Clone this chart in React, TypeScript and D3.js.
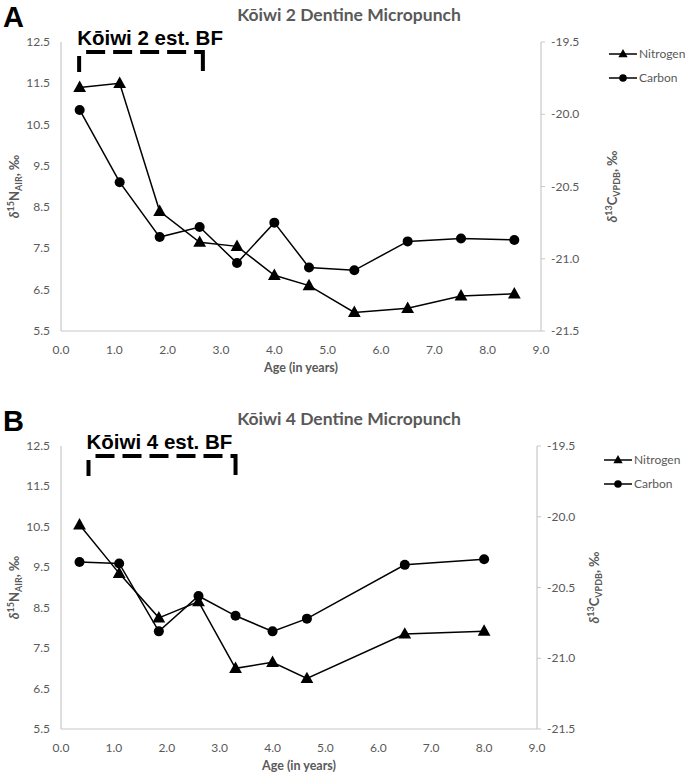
import React from 'react';
import * as d3 from 'd3';

// ages (years) and isotope values
const ageA = [0.35, 1.1, 1.85, 2.6, 3.3, 4.0, 4.65, 5.5, 6.5, 7.5, 8.5];
const nitrogenA = [11.4, 11.5, 8.4, 7.65, 7.55, 6.85, 6.6, 5.95, 6.05, 6.35, 6.4];
const carbonA = [-19.97, -20.47, -20.85, -20.78, -21.03, -20.75, -21.06, -21.08, -20.88, -20.86, -20.87];

const ageB = [0.35, 1.1, 1.85, 2.6, 3.3, 4.0, 4.65, 6.5, 8.0];
const nitrogenB = [10.55, 9.35, 8.25, 8.65, 7.0, 7.15, 6.75, 7.85, 7.92];
const carbonB = [-20.32, -20.33, -20.81, -20.56, -20.7, -20.81, -20.72, -20.34, -20.3];

// estimated breastfeeding range (age)
const bfA = [0.34, 2.66];
const bfB = [0.52, 3.3];

const xTicks = [0, 1, 2, 3, 4, 5, 6, 7, 8, 9];
const nTicks = [5.5, 6.5, 7.5, 8.5, 9.5, 10.5, 11.5, 12.5];
const cTicks = [-21.5, -21.0, -20.5, -20.0, -19.5];

const GRAY = '#595959';
const AXIS = '#c8c8c8';
const LABEL_FONT = 'Lato, "Open Sans", sans-serif';
const ARIAL = '"Liberation Sans", Arial, sans-serif';

interface PanelProps {
  letter: string;
  title: string;
  note: string;
  age: number[];
  nitrogen: number[];
  carbon: number[];
  bf: number[];
  top: number;
  bottom: number;
  left: number;
  right: number;
  legendX: number;
  legendY: number;
  rightLabelX: number;
}

const tri = (cx: number, cy: number, s: number) =>
  `M${cx},${cy - s * 0.62} L${cx + s * 0.58},${cy + s * 0.42} L${cx - s * 0.58},${cy + s * 0.42} Z`;

const Panel: React.FC<PanelProps> = (p) => {
  const x = d3.scaleLinear().domain([0, 9]).range([p.left, p.right]);
  const yN = d3.scaleLinear().domain([5.5, 12.5]).range([p.bottom, p.top]);
  const yC = d3.scaleLinear().domain([-21.5, -19.5]).range([p.bottom, p.top]);

  const nPts = p.age.map((a, i) => [x(a), yN(p.nitrogen[i])] as [number, number]);
  const cPts = p.age.map((a, i) => [x(a), yC(p.carbon[i])] as [number, number]);
  const line = d3.line();

  const midX = (p.left + p.right) / 2;
  const midY = (p.top + p.bottom) / 2;
  const bTop = p.top + 10;
  const bBot = p.top + 30;
  const b0 = x(p.bf[0]);
  const b1 = x(p.bf[1]);

  return (
    <g>
      <text x={3} y={p.top - 15} fontFamily={ARIAL} fontWeight="bold" fontSize={29} fill="#000">{p.letter}</text>
      <text x={349} y={p.top - 21} textAnchor="middle" fontFamily={LABEL_FONT} fontWeight="bold" fontSize={17.5} fill={GRAY}>{p.title}</text>

      {/* axes */}
      <line x1={p.left} x2={p.left} y1={p.top} y2={p.bottom} stroke={AXIS} strokeWidth={1.2} />
      <line x1={p.right} x2={p.right} y1={p.top} y2={p.bottom} stroke={AXIS} strokeWidth={1.2} />
      <line x1={p.left} x2={p.right} y1={p.bottom} y2={p.bottom} stroke={AXIS} strokeWidth={1.2} />

      {nTicks.map((t) => (
        <text key={'n' + t} x={p.left - 11} y={yN(t) + 4} textAnchor="end" fontFamily={LABEL_FONT} fontSize={12} fill={GRAY}>{t.toFixed(1)}</text>
      ))}
      {cTicks.map((t) => (
        <g key={'c' + t}>
          <line x1={p.right} x2={p.right + 4} y1={yC(t)} y2={yC(t)} stroke={AXIS} />
          <text x={p.right + 10} y={yC(t) + 4} fontFamily={LABEL_FONT} fontSize={12} fill={GRAY}>{t.toFixed(1)}</text>
        </g>
      ))}
      {xTicks.map((t) => (
        <text key={'x' + t} x={x(t)} y={p.bottom + 23} textAnchor="middle" fontFamily={LABEL_FONT} fontSize={12} fill={GRAY}>{t.toFixed(1)}</text>
      ))}
      <text x={midX} y={p.bottom + 41} textAnchor="middle" fontFamily={LABEL_FONT} fontWeight="bold" fontSize={12.5} fill={GRAY}>Age (in years)</text>

      <text transform={`translate(19,${midY}) rotate(-90)`} textAnchor="middle" fontFamily={LABEL_FONT} fontWeight="bold" fontSize={13} fill={GRAY}>
        <tspan fontStyle="italic">δ</tspan>
        <tspan fontSize={9} dy={-5}>15</tspan>
        <tspan dy={5}>N</tspan>
        <tspan fontSize={9} dy={3}>AIR</tspan>
        <tspan dy={-3}>, ‰</tspan>
      </text>
      <text transform={`translate(${p.rightLabelX},${midY}) rotate(-90)`} textAnchor="middle" fontFamily={LABEL_FONT} fontWeight="bold" fontSize={13} fill={GRAY}>
        <tspan fontStyle="italic">δ</tspan>
        <tspan fontSize={9} dy={-5}>13</tspan>
        <tspan dy={5}>C</tspan>
        <tspan fontSize={9} dy={3}>VPDB</tspan>
        <tspan dy={-3}>, ‰</tspan>
      </text>

      {/* breastfeeding bracket */}
      <text x={b0 - 2} y={p.top + 3} fontFamily={ARIAL} fontWeight="bold" fontSize={20.5} fill="#000">{p.note}</text>
      <line x1={b0} x2={b0} y1={bTop + 4} y2={bBot} stroke="#000" strokeWidth={4} />
      <line x1={b0 + 7} x2={b1} y1={bTop} y2={bTop} stroke="#000" strokeWidth={4} strokeDasharray="19,8" />
      <line x1={b1} x2={b1} y1={bTop - 2} y2={bBot - 1} stroke="#000" strokeWidth={4} />

      {/* series */}
      <path d={line(cPts) || ''} fill="none" stroke="#000" strokeWidth={1.5} />
      <path d={line(nPts) || ''} fill="none" stroke="#000" strokeWidth={1.5} />
      {cPts.map((d, i) => <circle key={'cp' + i} cx={d[0]} cy={d[1]} r={5} fill="#000" />)}
      {nPts.map((d, i) => <path key={'np' + i} d={tri(d[0], d[1], 11)} fill="#000" />)}

      {/* legend */}
      <g>
        <line x1={p.legendX} x2={p.legendX + 28} y1={p.legendY} y2={p.legendY} stroke="#000" strokeWidth={1.5} />
        <path d={tri(p.legendX + 14, p.legendY, 8)} fill="#000" />
        <text x={p.legendX + 30} y={p.legendY + 4} fontFamily={LABEL_FONT} fontSize={12} fill={GRAY}>Nitrogen</text>
        <line x1={p.legendX} x2={p.legendX + 28} y1={p.legendY + 24} y2={p.legendY + 24} stroke="#000" strokeWidth={1.5} />
        <circle cx={p.legendX + 14} cy={p.legendY + 24} r={3.8} fill="#000" />
        <text x={p.legendX + 30} y={p.legendY + 28} fontFamily={LABEL_FONT} fontSize={12} fill={GRAY}>Carbon</text>
      </g>
    </g>
  );
};

export default function App() {
  return (
    <svg width={685} height={775} style={{ position: 'absolute', left: 0, top: 0, background: '#fff' }}>
      <Panel letter="A" title="Kōiwi 2 Dentine Micropunch" note="Kōiwi 2 est. BF"
        age={ageA} nitrogen={nitrogenA} carbon={carbonA} bf={bfA}
        top={42} bottom={331} left={61} right={541}
        legendX={609} legendY={54} rightLabelX={617} />
      <Panel letter="B" title="Kōiwi 4 Dentine Micropunch" note="Kōiwi 4 est. BF"
        age={ageB} nitrogen={nitrogenB} carbon={carbonB} bf={bfB}
        top={446} bottom={729} left={61} right={537}
        legendX={604} legendY={460} rightLabelX={599} />
    </svg>
  );
}
